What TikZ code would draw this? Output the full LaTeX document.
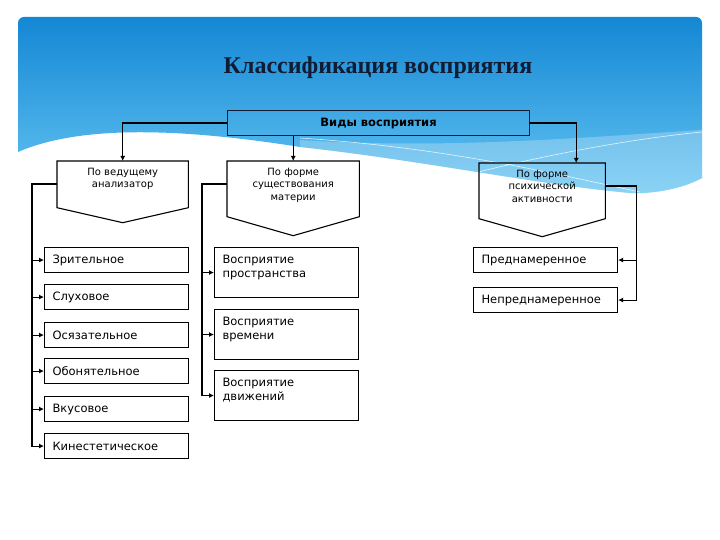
\documentclass[tikz,border=0pt]{standalone}
\usepackage{fontspec}
\setmainfont{DejaVu Sans}
\newfontfamily\titlefont{Liberation Serif}
\usepackage{tikz}
\usetikzlibrary{arrows.meta}
\definecolor{skytop}{RGB}{20,135,212}
\definecolor{skybot}{RGB}{100,196,242}
\definecolor{navy}{RGB}{16,28,52}

\begin{document}
\begin{tikzpicture}[x=1pt,y=-1pt]
\tikzset{>={Latex[width=5pt,length=5pt]}}
\tikzstyle{boxline}=[draw=black, line width=1.1pt]
\tikzstyle{conn}=[black, line width=1.1pt]
\tikzstyle{leaf}=[boxline, anchor=north west, text width=128pt, inner xsep=8pt, inner ysep=0pt, minimum height=25pt, align=left, font=\fontsize{11.5}{13.5}\selectfont]
\tikzstyle{tall}=[leaf, minimum height=50pt, inner ysep=7pt, text depth=26pt]
\tikzstyle{pent}=[anchor=north west, align=center, inner xsep=3pt, inner ysep=7pt, font=\fontsize{10}{12.5}\selectfont]

\useasboundingbox (0,0) rectangle (720,540);
\fill[white] (0,0) rectangle (720,540);

\shade[top color=skytop, bottom color=skybot] (18,152) [rounded corners=6] -- (18,17) -- (702,17) [sharp corners] -- (702,178) .. controls (680,190) and (650,194) .. (630,193) .. controls (540,185) and (420,160) .. (300,147) .. controls (180,128) and (80,125) .. (18,152) -- cycle;
\fill[white, opacity=0.25] (300,140) .. controls (450,150) and (600,136) .. (702,130) -- (702,178) .. controls (680,190) and (650,194) .. (630,193) .. controls (540,185) and (420,160) .. (300,147) -- cycle;
\draw[white, line width=0.6pt, opacity=0.8] (300,138) .. controls (450,148) and (560,175) .. (640,192);
\draw[white, line width=0.6pt, opacity=0.8] (440,182) .. controls (520,160) and (620,140) .. (702,132);

\node[font=\titlefont\bfseries\fontsize{24}{28}\selectfont, text=navy] (title) at (378,68) {Классификация восприятия};

\node[draw=navy, line width=1.1pt, anchor=north west, minimum width=302pt, minimum height=25pt, font=\bfseries\fontsize{11.5}{13}\selectfont] (top) at (227,110) {Виды восприятия};

\node[pent, text width=125pt, minimum height=46pt, text depth=25pt] (pA) at (57,161) {По ведущему\\анализатор};
\node[pent, text width=126pt, minimum height=55pt, text depth=34pt] (pB) at (227,161) {По форме\\существования\\материи};
\node[pent, text width=120pt, minimum height=55pt, text depth=34pt] (pC) at (479,163) {По форме\\психической\\активности};
\foreach \n/\t in {pA/15,pB/19,pC/18}
  \draw[boxline] (\n.north west) -- (\n.north east) -- (\n.south east) -- ([yshift=-\t]\n.south) -- (\n.south west) -- cycle;

\node[leaf] (zr) at (44,247) {Зрительное};
\node[leaf] (sl) at (44,284) {Слуховое};
\node[leaf] (os) at (44,322) {Осязательное};
\node[leaf] (ob) at (44,358) {Обонятельное};
\node[leaf] (vk) at (44,396) {Вкусовое};
\node[leaf] (kn) at (44,433) {Кинестетическое};

\node[tall] (pr) at (214,247) {Восприятие\\пространства};
\node[tall] (vr) at (214,309) {Восприятие\\времени};
\node[tall] (dv) at (214,370) {Восприятие\\движений};

\node[leaf] (pd) at (473,247) {Преднамеренное};
\node[leaf] (np) at (473,287) {Непреднамеренное};

\draw[conn,->] (top.west) -| (pA.north);
\draw[conn,->] (top.south -| pB.north) -- (pB.north);
\draw[conn,->] (top.east) -| ([xshift=34pt]pC.north);

\draw[conn,->] ([yshift=-23pt]pA.north west) -| ([xshift=-12pt]kn.west) -- (kn.west);
\foreach \b in {zr,sl,os,ob,vk}
  \draw[conn,->] ([xshift=-12pt]\b.west) -- (\b.west);

\draw[conn,->] ([yshift=-23pt]pB.north west) -| ([xshift=-12pt]dv.west) -- (dv.west);
\foreach \b in {pr,vr}
  \draw[conn,->] ([xshift=-12pt]\b.west) -- (\b.west);

\draw[conn,->] ([yshift=-23pt]pC.north east) -| ([xshift=18pt]np.east) -- (np.east);
\draw[conn,->] ([xshift=18pt]pd.east) -- (pd.east);
\end{tikzpicture}
\end{document}
